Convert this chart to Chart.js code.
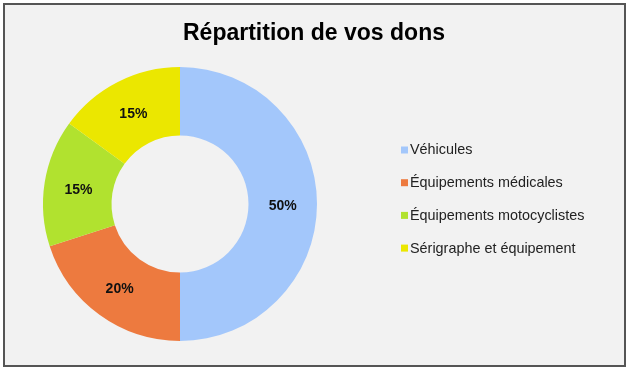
<!DOCTYPE html>
<html lang="fr">
<head>
  <meta charset="UTF-8" />
  <title>Répartition de vos dons</title>
  <script src="https://cdn.jsdelivr.net/npm/chart.js"></script>
  <style>
    html, body { margin: 0; padding: 0; background: #fff; }
    #wrap { position: relative; width: 630px; height: 371px; }
  </style>
</head>
<body>
  <div id="wrap"><canvas id="donsChart" width="630" height="371"></canvas></div>

  <script>
    const chartTitle = "Répartition de vos dons";
    const labels = ["Véhicules", "Équipements médicales", "Équipements motocyclistes", "Sérigraphe et équipement"];
    const values = [50, 20, 15, 15];
    const colors = ["#a3c7fb", "#ed7a3f", "#b1e22f", "#ebe700"];

    const FONT = "'Liberation Sans', Arial, Helvetica, sans-serif";

    // fond gris + cadre, titre, légende à droite, pourcentages dans les parts
    const decor = {
      id: "decor",
      beforeDraw(chart) {
        const ctx = chart.ctx;
        ctx.save();
        ctx.fillStyle = "#f2f2f2";
        ctx.fillRect(4, 4, 621, 362);
        ctx.strokeStyle = "#555";
        ctx.lineWidth = 2;
        ctx.strokeRect(4, 4, 621, 362);

        ctx.fillStyle = "#000";
        ctx.font = "bold 23px " + FONT;
        ctx.textAlign = "center";
        ctx.textBaseline = "middle";
        ctx.fillText(chartTitle, 314, 34);
        ctx.restore();
      },
      afterDraw(chart) {
        const ctx = chart.ctx;
        ctx.save();
        // légende
        ctx.font = "14.4px " + FONT;
        ctx.textBaseline = "middle";
        ctx.textAlign = "left";
        labels.forEach((lab, i) => {
          const y = 150.5 + i * 32.7;
          ctx.fillStyle = colors[i];
          ctx.fillRect(401, y - 4, 7, 7);
          ctx.fillStyle = "#222";
          ctx.fillText(lab, 410, y);
        });
        // pourcentages
        const total = values.reduce((a, b) => a + b, 0);
        ctx.font = "bold 14px " + FONT;
        ctx.textAlign = "center";
        ctx.fillStyle = "#111";
        chart.getDatasetMeta(0).data.forEach((arc, i) => {
          const p = arc.tooltipPosition();
          ctx.fillText(Math.round(values[i] / total * 100) + "%", p.x, p.y + 2);
        });
        ctx.restore();
      }
    };

    new Chart(document.getElementById("donsChart"), {
      type: "doughnut",
      data: {
        labels: labels,
        datasets: [{
          data: values,
          backgroundColor: colors,
          borderWidth: 0
        }]
      },
      options: {
        responsive: false,
        animation: false,
        cutout: "50%",
        layout: { padding: { left: 43, right: 313, top: 67, bottom: 30 } },
        plugins: {
          legend: { display: false },
          title: { display: false },
          tooltip: { enabled: false }
        }
      },
      plugins: [decor]
    });
  </script>
</body>
</html>
